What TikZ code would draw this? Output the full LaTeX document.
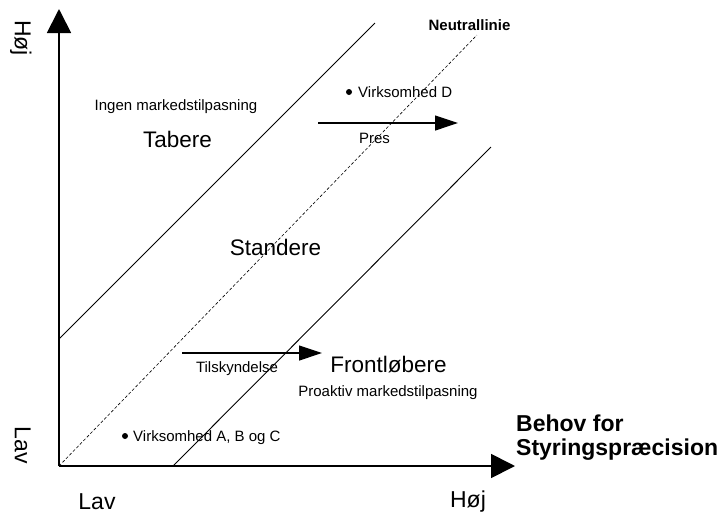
\documentclass[tikz,border=0pt]{standalone}
\usepackage{fontspec}
\setmainfont{Liberation Sans}
\usetikzlibrary{arrows.meta}
\begin{document}
\begin{tikzpicture}[x=1pt,y=-1pt,
  axis/.style={line width=1.8pt,-{Triangle[length=24pt,width=24pt]}},
  push/.style={line width=1.2pt,-{Triangle[length=23pt,width=15pt]}},
  bound/.style={line width=0.9pt},
  neutral/.style={line width=0.6pt,dash pattern=on 3pt off 2pt},
  lbl/.style={inner sep=0pt,anchor=base,font=\fontsize{15}{18}\selectfont},
  lbll/.style={inner sep=0pt,anchor=base west,font=\fontsize{15}{18}\selectfont},
  big/.style={inner sep=0pt,anchor=base,font=\fontsize{22.5}{26}\selectfont},
  axlbl/.style={inner sep=0pt,anchor=base,font=\fontsize{23}{26}\selectfont},
  dot/.style={circle,fill=black,inner sep=0pt,minimum size=6pt}]
\useasboundingbox (0,0) rectangle (721,515);
% axes
\coordinate (O) at (59,466);
\coordinate (Ytip) at (59,9);
\coordinate (Xtip) at (515,466);
\draw[axis] (O) -- (Ytip);
\draw[axis] (O) -- (Xtip);
% boundary lines
\coordinate (U1) at (59,339);
\coordinate (U2) at (375,23);
\coordinate (L1) at (173,466);
\coordinate (L2) at (491,147);
\coordinate (N2) at (477,35);
\draw[bound] (U1) -- (U2);
\draw[bound] (L1) -- (L2);
\draw[neutral] (O) -- (N2);
% pressure arrows
\coordinate (P1) at (318,123);
\coordinate (P2) at (458,123);
\draw[push] (P1) -- (P2);
\coordinate (T1) at (182,353);
\coordinate (T2) at (322,353);
\draw[push] (T1) -- (T2);
% labels
\node[lbl] (neutral) at (469.5,30) {\bfseries Neutrallinie};
\node[lbl] (ingen) at (176,110) {Ingen markedstilpasning};
\node[big] (tabere) at (177.5,147) {Tabere};
\node[dot] (dotD) at (349,92) {};
\node[lbll] (virkD) at (358,97) {Virksomhed D};
\node[lbl] (pres) at (374.5,143) {Pres};
\node[big] (standere) at (275.5,255) {Standere};
\node[big] (front) at (388.5,372) {Frontløbere};
\node[lbl] (proaktiv) at (388,396) {Proaktiv markedstilpasning};
\node[lbl] (tilsk) at (237,372) {Tilskyndelse};
\node[dot] (dotABC) at (125,436) {};
\node[lbll] (virkABC) at (133,441) {Virksomhed A, B og C};
% axis labels
\node[axlbl] (xlav) at (97,509) {Lav};
\node[axlbl] (xhoj) at (468,507) {Høj};
\node[axlbl,rotate=-90] (yhoj) at (15,38) {Høj};
\node[axlbl,rotate=-90] (ylav) at (15,445) {Lav};
\node[inner sep=0pt,anchor=base west,align=left,font=\fontsize{23}{24}\selectfont\bfseries] (behov) at (516,455) {Behov for\\Styringspræcision};
\end{tikzpicture}
\end{document}
